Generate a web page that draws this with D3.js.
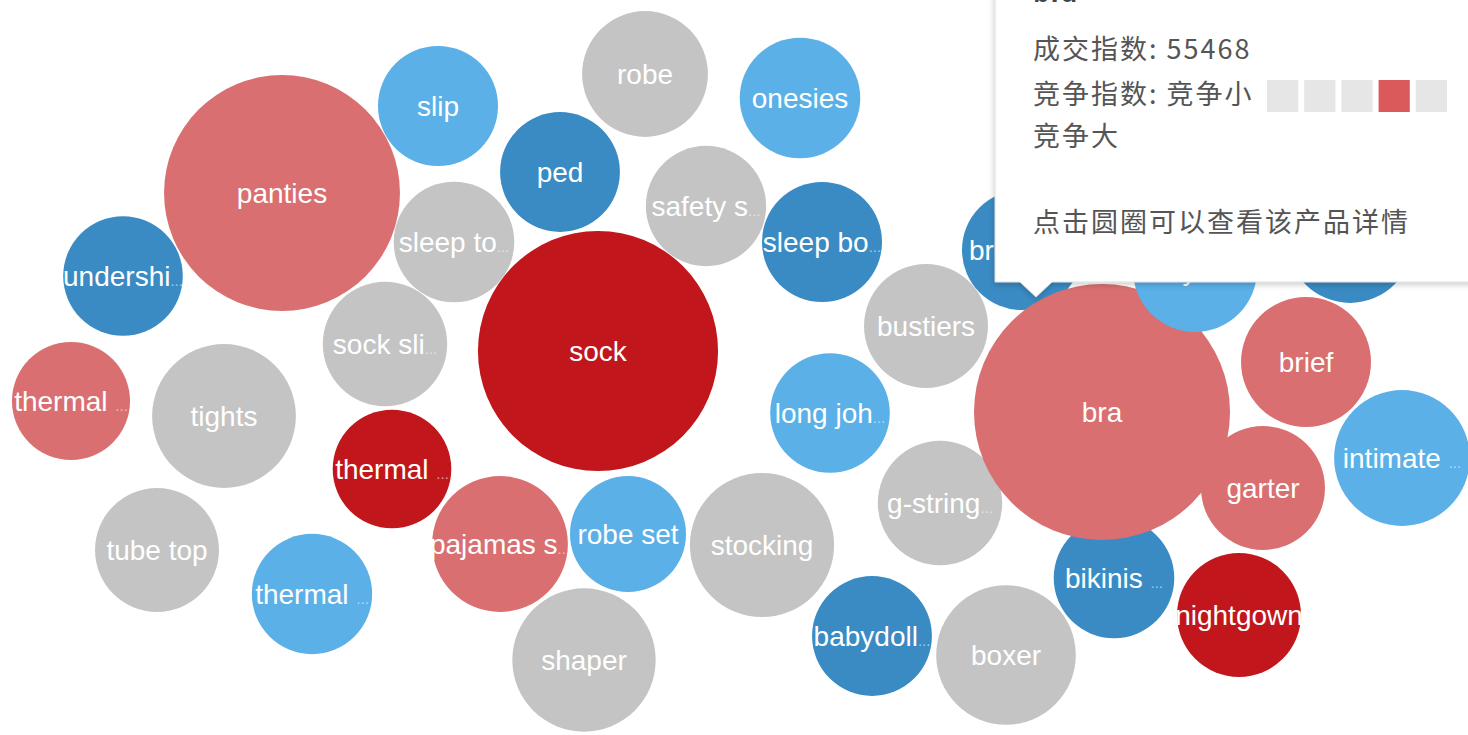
<!DOCTYPE html>
<html>
<head>
<meta charset="utf-8">
<script src="https://cdnjs.cloudflare.com/ajax/libs/d3/7.8.5/d3.min.js"></script>
<style>
  html, body { margin: 0; padding: 0; background: #fff; overflow: hidden; }
  svg { display: block; }
</style>
</head>
<body>
<svg id="chart" width="1468" height="735"></svg>
<script>
// Product keywords, their 成交指数 (deal index) and 竞争指数 (competition level, 1 = low … 5 = high)
const products = [
  "panties", "slip", "robe", "onesies", "ped", "safety shorts", "sleep bottoms", "sleep tops",
  "undershirt", "sock slippers", "sock", "thermal underwear", "tights", "thermal tops", "tube top",
  "thermal pants", "pajamas set", "robe set", "stocking", "shaper", "long johns", "bustiers",
  "g-string thongs", "babydoll sets", "boxer", "breast forms", "bikinis set", "bra", "bodysuits",
  "corsets", "brief", "garter", "nightgown", "intimate accessories"
];
const dealIndex = [
  47100, 12200, 13400, 12300, 12150, 12250, 12200, 12300,
  12100, 13100, 48800, 11800, 17500, 11900, 13000,
  12250, 15600, 11400, 17600, 17400, 12100, 13000,
  13100, 12150, 16500, 12200, 12300, 55468, 13000,
  13400, 14300, 13000, 13000, 15600
];
const competition = [
  4, 2, 3, 2, 1, 3, 1, 3,
  1, 3, 5, 4, 3, 5, 3,
  2, 4, 2, 3, 3, 2, 3,
  3, 1, 3, 1, 1, 4, 2,
  1, 4, 4, 5, 2
];
// Packed arrangement of the bubbles (layout units)
const layoutX = [
  282, 438, 645, 800, 560, 706, 822, 454,
  123, 385, 598, 71, 224, 392, 157,
  312, 500, 628, 762, 584, 830, 926,
  940, 872, 1006, 1022, 1114, 1102, 1195,
  1350, 1306, 1263, 1239, 1402
];
const layoutY = [
  193, 106, 74, 98, 172, 206, 242, 242,
  276, 344, 351, 401, 416, 469, 550,
  594, 544, 534, 545, 660, 413, 326,
  503, 636, 655, 250, 578, 412, 270,
  240, 362, 488, 615, 458
];
const levels = [1, 2, 3, 4, 5];
const levelColors = ["#3a8bc4", "#5bb0e8", "#c4c4c4", "#d96f70", "#c1171c"];

// Tooltip contents for the hovered bubble
const hovered = "bra";
const tipLines = ["成交指数: 55468", "竞争指数: 竞争小", "竞争大", "点击圆圈可以查看该产品详情"];

const W = 1468, H = 735;
const svg = d3.select("#chart");

const x = d3.scaleLinear().domain([0, 1468]).range([0, W]);
const y = d3.scaleLinear().domain([0, 735]).range([0, H]);
const r = d3.scaleSqrt().domain([0, d3.max(dealIndex)]).range([0, 128]);
const color = d3.scaleOrdinal().domain(levels).range(levelColors);

const data = products.map((name, i) => ({
  name, value: dealIndex[i], level: competition[i], cx: x(layoutX[i]), cy: y(layoutY[i])
}));

const nodes = svg.append("g").selectAll("g")
  .data(data)
  .join("g")
  .attr("transform", d => `translate(${d.cx},${d.cy})`);

nodes.append("circle")
  .attr("r", d => r(d.value))
  .attr("fill", d => color(d.level));

const fontFamily = "'Liberation Sans', Arial, sans-serif";
const labels = nodes.append("text")
  .attr("text-anchor", "middle")
  .attr("dy", "0.36em")
  .attr("fill", "#fff")
  .style("font-family", fontFamily)
  .style("font-size", "28px");

// Long names are clipped to a character budget that grows with the bubble,
// followed by a faint ellipsis
labels.each(function(d) {
  const t = d3.select(this);
  const budget = Math.round(r(d.value) / 7.5);
  if (d.name.length <= budget + 1) { t.text(d.name); return; }
  t.append("tspan").text(d.name.slice(0, budget));
  t.append("tspan").attr("font-size", "15px").attr("fill-opacity", 0.55).text("...");
});

// Tooltip
const tip = svg.append("g").attr("class", "tooltip");
const defs = svg.append("defs");
const shadow = defs.append("filter").attr("id", "tipShadow")
  .attr("x", "-10%").attr("y", "-10%").attr("width", "130%").attr("height", "130%");
shadow.append("feDropShadow").attr("dx", 0).attr("dy", 2).attr("stdDeviation", 3)
  .attr("flood-color", "#000").attr("flood-opacity", 0.22);

const tipX = 995, tipBottom = 282;
tip.append("path")
  .attr("d", `M${tipX},-20 H${W + 20} V${tipBottom} H1052 L1036,297 L1020,${tipBottom} H${tipX} Z`)
  .attr("fill", "#fff")
  .attr("stroke", "#dcdcdc")
  .attr("stroke-width", 1)
  .attr("filter", "url(#tipShadow)");

const tipFont = "'Noto Sans CJK SC', 'Noto Sans', sans-serif";
tip.append("text")
  .attr("x", 1033).attr("y", 2)
  .attr("fill", "#444")
  .style("font-family", tipFont).style("font-size", "27px").style("font-weight", "bold")
  .text(hovered);

const lineY = [59, 104, 146, 232];
tip.selectAll("text.line")
  .data(tipLines)
  .join("text")
  .attr("class", "line")
  .attr("x", 1033)
  .attr("y", (d, i) => lineY[i])
  .attr("fill", "#555")
  .style("font-family", tipFont)
  .style("font-size", "27px")
  .style("letter-spacing", "2px")
  .text(d => d);

// Competition scale squares, the hovered level highlighted
const hoveredLevel = competition[products.indexOf(hovered)];
const sq = d3.scaleBand().domain(levels).range([1267, 1447]).paddingInner(0.16);
tip.selectAll("rect.level")
  .data(levels)
  .join("rect")
  .attr("class", "level")
  .attr("x", d => sq(d))
  .attr("y", 80)
  .attr("width", sq.bandwidth())
  .attr("height", 32)
  .attr("fill", d => d === hoveredLevel ? "#da5a5c" : "#e6e6e6");
</script>
</body>
</html>
